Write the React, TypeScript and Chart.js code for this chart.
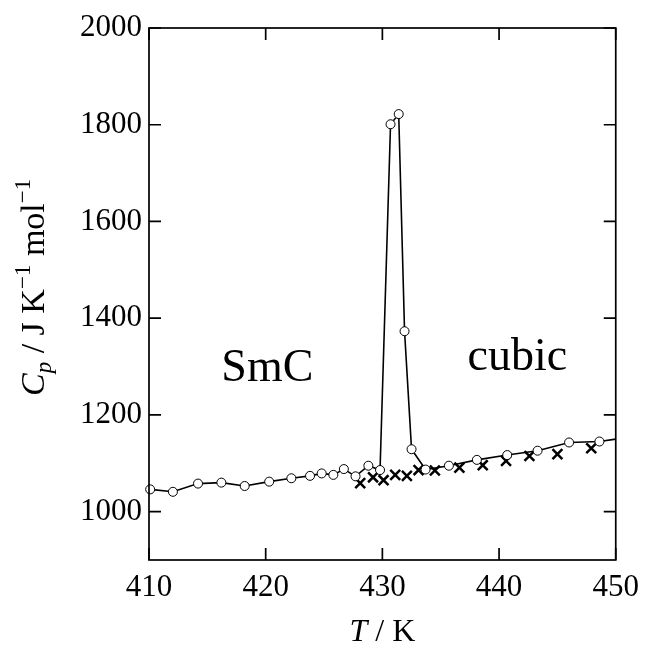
import React, { useEffect, useRef } from "react";
import { Chart, registerables } from "chart.js";

Chart.register(...registerables);

// Heat capacity data (circles, joined by a line)
const T_CIRCLE = [410.1, 412.05, 414.2, 416.2, 418.2, 420.3, 422.2, 423.8, 424.8, 425.8, 426.7, 427.7, 428.8, 429.8, 430.7, 431.4, 431.9, 432.5, 433.7, 435.7, 438.1, 440.7, 443.3, 446.0, 448.6, 450];
const CP_CIRCLE = [1046, 1041, 1058, 1060, 1053, 1062, 1069, 1074, 1079, 1076, 1088, 1073, 1095, 1086, 1801, 1822, 1373, 1129, 1087, 1095, 1107, 1117, 1126, 1143, 1145, 1150];
// last entry is only the line's end at the frame (no marker)

// Second series (crosses)
const T_CROSS = [428.1, 429.2, 430.1, 431.1, 432.1, 433.1, 434.5, 436.6, 438.6, 440.6, 442.6, 445.0, 447.9];
const CP_CROSS = [1059, 1071, 1065, 1076, 1074, 1086, 1085, 1091, 1096, 1105, 1115, 1119, 1131];

const X_TICKS = [410, 420, 430, 440, 450];
const Y_TICKS = [1000, 1200, 1400, 1600, 1800, 2000];

const SERIF = "'Liberation Serif', 'DejaVu Serif', serif";

type Part = { text: string; size: number; italic?: boolean; dy?: number };

function drawRich(ctx: CanvasRenderingContext2D, parts: Part[], x: number, y: number) {
  let cx = x;
  for (const p of parts) {
    ctx.font = `${p.italic ? "italic " : ""}${p.size}px ${SERIF}`;
    ctx.fillText(p.text, cx, y + (p.dy || 0));
    cx += ctx.measureText(p.text).width;
  }
  return cx - x;
}

function richWidth(ctx: CanvasRenderingContext2D, parts: Part[]) {
  let w = 0;
  for (const p of parts) {
    ctx.font = `${p.italic ? "italic " : ""}${p.size}px ${SERIF}`;
    w += ctx.measureText(p.text).width;
  }
  return w;
}

const framePlugin = {
  id: "frame",
  afterDraw(chart: any) {
    const ctx: CanvasRenderingContext2D = chart.ctx;
    const ca = chart.chartArea;
    const xs = chart.scales.x;
    const ys = chart.scales.y;
    ctx.save();
    ctx.strokeStyle = "#000";
    ctx.lineWidth = 1.7;
    ctx.strokeRect(ca.left, ca.top, ca.right - ca.left, ca.bottom - ca.top);
    const TL = 12;
    ctx.beginPath();
    for (const v of X_TICKS) {
      const px = xs.getPixelForValue(v);
      ctx.moveTo(px, ca.bottom);
      ctx.lineTo(px, ca.bottom - TL);
      ctx.moveTo(px, ca.top);
      ctx.lineTo(px, ca.top + TL);
    }
    for (const v of Y_TICKS) {
      const py = ys.getPixelForValue(v);
      ctx.moveTo(ca.left, py);
      ctx.lineTo(ca.left + TL, py);
      ctx.moveTo(ca.right, py);
      ctx.lineTo(ca.right - TL, py);
    }
    ctx.stroke();

    ctx.fillStyle = "#000";
    ctx.textBaseline = "alphabetic";
    ctx.textAlign = "left";

    // phase labels
    ctx.font = `46px ${SERIF}`;
    ctx.fillText("SmC", xs.getPixelForValue(416.2), ys.getPixelForValue(1270));
    ctx.fillText("cubic", xs.getPixelForValue(437.3), ys.getPixelForValue(1292));

    // x title
    const xParts: Part[] = [
      { text: "T", size: 32, italic: true },
      { text: " / K", size: 32 },
    ];
    const xw = richWidth(ctx, xParts);
    drawRich(ctx, xParts, (ca.left + ca.right) / 2 - xw / 2, 641);

    // y title (rotated, reading upward, starting near y = 395)
    const yParts: Part[] = [
      { text: "C", size: 34, italic: true },
      { text: "p", size: 23, italic: true, dy: 7 },
      { text: " / J K", size: 34 },
      { text: "\u22121", size: 23, dy: -14 },
      { text: " mol", size: 34 },
      { text: "\u22121", size: 23, dy: -14 },
    ];
    ctx.translate(44, 396);
    ctx.rotate(-Math.PI / 2);
    drawRich(ctx, yParts, 0, 0);
    ctx.restore();
  },
};

export default function App() {
  const ref = useRef<HTMLCanvasElement | null>(null);

  useEffect(() => {
    if (!ref.current) return;
    const last = T_CIRCLE.length - 1;
    const chart = new Chart(ref.current, {
      type: "scatter",
      data: {
        datasets: [
          {
            data: T_CIRCLE.map((t, i) => ({ x: t, y: CP_CIRCLE[i] })),
            showLine: true,
            borderColor: "#000",
            borderWidth: 1.6,
            pointStyle: "circle",
            pointRadius: T_CIRCLE.map((_, i) => (i === last ? 0 : 4.5)),
            pointBackgroundColor: "#fff",
            pointBorderColor: "#000",
            pointBorderWidth: 1,
            clip: { left: 10, top: 10, right: 0, bottom: 10 },
          } as any,
          {
            data: T_CROSS.map((t, i) => ({ x: t, y: CP_CROSS[i] })),
            showLine: false,
            pointStyle: "crossRot",
            pointRadius: 7,
            pointBorderColor: "#000",
            pointBorderWidth: 2.5,
          } as any,
        ],
      },
      options: {
        responsive: false,
        animation: false,
        layout: { padding: { top: 28, right: 25, left: 0, bottom: 0 } },
        plugins: { legend: { display: false }, tooltip: { enabled: false } },
        scales: {
          x: {
            type: "linear",
            min: 410,
            max: 450,
            grid: { display: false, drawTicks: false },
            border: { display: false },
            afterBuildTicks: (s: any) => {
              s.ticks = X_TICKS.map((v) => ({ value: v }));
            },
            afterFit: (s: any) => {
              s.height = 89;
            },
            ticks: {
              font: { family: SERIF, size: 31 },
              color: "#000",
              padding: 9,
              maxRotation: 0,
              autoSkip: false,
              callback: (v: any) => String(v),
            },
          },
          y: {
            type: "linear",
            min: 900,
            max: 2000,
            grid: { display: false, drawTicks: false },
            border: { display: false },
            afterBuildTicks: (s: any) => {
              s.ticks = Y_TICKS.map((v) => ({ value: v }));
            },
            afterFit: (s: any) => {
              s.width = 149;
            },
            ticks: {
              font: { family: SERIF, size: 31 },
              color: "#000",
              padding: 7,
              autoSkip: false,
              callback: (v: any) => String(v),
            },
          },
        } as any,
      },
      plugins: [framePlugin],
    });
    return () => chart.destroy();
  }, []);

  return (
    <div style={{ position: "absolute", left: 0, top: 0, width: 648, height: 649, background: "#fff" }}>
      <canvas ref={ref} width={648} height={649} style={{ display: "block" }} />
    </div>
  );
}
